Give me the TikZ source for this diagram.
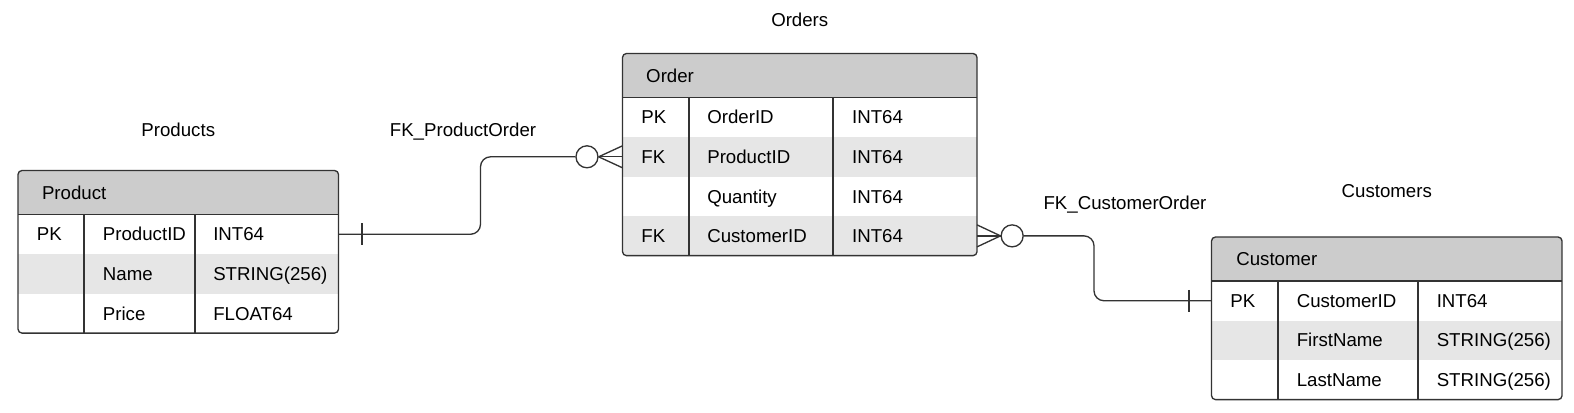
\documentclass[tikz,border=0pt]{standalone}
\usepackage{fontspec}
\setmainfont{Liberation Sans}
\usetikzlibrary{positioning}
\usetikzlibrary{backgrounds}

\definecolor{headgray}{HTML}{CCCCCC}
\definecolor{stripegray}{HTML}{E6E6E6}
\definecolor{linegray}{HTML}{333333}

\tikzset{
  tabhead/.style={minimum height=32.6pt, inner sep=0pt, anchor=north west},
  tabrow/.style={minimum height=29.25pt, inner sep=0pt},
  cell/.style={inner sep=0pt, text height=10pt, text depth=0pt},
  tabframe/.style={draw=linegray, line width=1pt, rounded corners=3pt},
  tabline/.style={draw=linegray, line width=1pt},
  relation/.style={draw=linegray, line width=1pt, rounded corners=7.5pt},
  zero/.style={draw=linegray, line width=1pt, circle, minimum size=16.5pt, inner sep=0pt, fill=white}
}

\begin{document}
\begin{tikzpicture}[x=0.75pt, y=-0.75pt, font=\fontsize{14}{17}\selectfont]
    \useasboundingbox (0,0) rectangle (1574,412);

    % Products
    \node[tabhead, minimum width=240pt] (prod_head) at (18,170.5) {};
    \node[tabrow, minimum width=240pt, below=0pt of prod_head] (prod_r1) {};
    \node[tabrow, minimum width=240pt, below=0pt of prod_r1] (prod_r2) {};
    \node[tabrow, minimum width=240pt, below=0pt of prod_r2] (prod_r3) {};

    \begin{scope}[on background layer]
        \begin{scope}
            \clip[rounded corners=3pt] (prod_head.north west) rectangle (prod_r3.south east);
            \fill[headgray] (prod_head.north west) rectangle (prod_head.south east);
            \fill[stripegray] (prod_r2.north west) rectangle (prod_r2.south east);
        \end{scope}
    \end{scope}

    \draw[tabframe] (prod_head.north west) rectangle (prod_r3.south east);
    \draw[tabline] (prod_head.south west) -- (prod_head.south east);
    \draw[tabline] ([xshift=49.5pt] prod_r1.north west) -- ([xshift=49.5pt] prod_r3.south west);
    \draw[tabline] ([xshift=132.75pt] prod_r1.north west) -- ([xshift=132.75pt] prod_r3.south west);

    \node[cell, above=25.4pt of prod_head] (prod_title) {Products};
    \node[cell, right=17.8pt of prod_head.west] (prod_name) {Product};
    \node[cell, right=14pt of prod_r1.west] (prod_pk) {PK};
    \node[cell, right=63.5pt of prod_r1.west] (prod_id) {ProductID};
    \node[cell, right=146.25pt of prod_r1.west] (prod_id_type) {INT64};
    \node[cell, right=63.5pt of prod_r2.west] (prod_nm) {Name};
    \node[cell, right=146.25pt of prod_r2.west] (prod_nm_type) {STRING(256)};
    \node[cell, right=63.5pt of prod_r3.west] (prod_pr) {Price};
    \node[cell, right=146.25pt of prod_r3.west] (prod_pr_type) {FLOAT64};

    % Orders
    \node[tabhead, minimum width=265.5pt] (ord_head) at (622.5,53.5) {};
    \node[tabrow, minimum width=265.5pt, below=0pt of ord_head] (ord_r1) {};
    \node[tabrow, minimum width=265.5pt, below=0pt of ord_r1] (ord_r2) {};
    \node[tabrow, minimum width=265.5pt, below=0pt of ord_r2] (ord_r3) {};
    \node[tabrow, minimum width=265.5pt, below=0pt of ord_r3] (ord_r4) {};

    \begin{scope}[on background layer]
        \begin{scope}
            \clip[rounded corners=3pt] (ord_head.north west) rectangle (ord_r4.south east);
            \fill[headgray] (ord_head.north west) rectangle (ord_head.south east);
            \fill[stripegray] (ord_r2.north west) rectangle (ord_r2.south east);
            \fill[stripegray] (ord_r4.north west) rectangle (ord_r4.south east);
        \end{scope}
    \end{scope}

    \draw[tabframe] (ord_head.north west) rectangle (ord_r4.south east);
    \draw[tabline] (ord_head.south west) -- (ord_head.south east);
    \draw[tabline] ([xshift=49.9pt] ord_r1.north west) -- ([xshift=49.9pt] ord_r4.south west);
    \draw[tabline] ([xshift=157.9pt] ord_r1.north west) -- ([xshift=157.9pt] ord_r4.south west);

    \node[cell, above=20.1pt of ord_head] (ord_title) {Orders};
    \node[cell, right=17.6pt of ord_head.west] (ord_name) {Order};
    \node[cell, right=14pt of ord_r1.west] (ord_pk) {PK};
    \node[cell, right=63.4pt of ord_r1.west] (ord_id) {OrderID};
    \node[cell, right=172pt of ord_r1.west] (ord_id_type) {INT64};
    \node[cell, right=14pt of ord_r2.west] (ord_fk1) {FK};
    \node[cell, right=63.4pt of ord_r2.west] (ord_prod) {ProductID};
    \node[cell, right=172pt of ord_r2.west] (ord_prod_type) {INT64};
    \node[cell, right=63.4pt of ord_r3.west] (ord_qty) {Quantity};
    \node[cell, right=172pt of ord_r3.west] (ord_qty_type) {INT64};
    \node[cell, right=14pt of ord_r4.west] (ord_fk2) {FK};
    \node[cell, right=63.4pt of ord_r4.west] (ord_cust) {CustomerID};
    \node[cell, right=172pt of ord_r4.west] (ord_cust_type) {INT64};

    % Customers
    \node[tabhead, minimum width=262.5pt] (cust_head) at (1211.5,237) {};
    \node[tabrow, minimum width=262.5pt, below=0pt of cust_head] (cust_r1) {};
    \node[tabrow, minimum width=262.5pt, below=0pt of cust_r1] (cust_r2) {};
    \node[tabrow, minimum width=262.5pt, below=0pt of cust_r2] (cust_r3) {};

    \begin{scope}[on background layer]
        \begin{scope}
            \clip[rounded corners=3pt] (cust_head.north west) rectangle (cust_r3.south east);
            \fill[headgray] (cust_head.north west) rectangle (cust_head.south east);
            \fill[stripegray] (cust_r2.north west) rectangle (cust_r2.south east);
        \end{scope}
    \end{scope}

    \draw[tabframe] (cust_head.north west) rectangle (cust_r3.south east);
    \draw[tabline] (cust_head.south west) -- (cust_head.south east);
    \draw[tabline] ([xshift=49.9pt] cust_r1.north west) -- ([xshift=49.9pt] cust_r3.south west);
    \draw[tabline] ([xshift=154.9pt] cust_r1.north west) -- ([xshift=154.9pt] cust_r3.south west);

    \node[cell, above=29.25pt of cust_head] (cust_title) {Customers};
    \node[cell, right=18.4pt of cust_head.west] (cust_name) {Customer};
    \node[cell, right=14pt of cust_r1.west] (cust_pk) {PK};
    \node[cell, right=63.75pt of cust_r1.west] (cust_id) {CustomerID};
    \node[cell, right=168.75pt of cust_r1.west] (cust_id_type) {INT64};
    \node[cell, right=63.75pt of cust_r2.west] (cust_first) {FirstName};
    \node[cell, right=168.75pt of cust_r2.west] (cust_first_type) {STRING(256)};
    \node[cell, right=63.75pt of cust_r3.west] (cust_last) {LastName};
    \node[cell, right=168.75pt of cust_r3.west] (cust_last_type) {STRING(256)};

    % FK_ProductOrder
    \coordinate (po_bend) at (480.5,0);
    \node[zero, left=17.9pt of ord_r2.west] (po_zero) {};
    \draw[relation] (prod_r1.east) -| (po_bend |- ord_r2.west) -- (po_zero.west);
    \draw[relation] ([xshift=17.6pt, yshift=8.25pt] prod_r1.east) -- ([xshift=17.6pt, yshift=-8.25pt] prod_r1.east);
    \draw[relation] (po_zero.east) -- ([yshift=8.25pt] ord_r2.west);
    \draw[relation] (po_zero.east) -- (ord_r2.west);
    \draw[relation] (po_zero.east) -- ([yshift=-8.25pt] ord_r2.west);
    \node[cell] (po_label) at (463,130) {FK\_ProductOrder};

    % FK_CustomerOrder
    \coordinate (co_bend) at (1094,0);
    \node[zero, right=17.6pt of ord_r4.east] (co_zero) {};
    \draw[relation] (co_zero.east) -| (co_bend |- cust_r1.west) -- (cust_r1.west);
    \draw[relation] ([xshift=-16.9pt, yshift=8.25pt] cust_r1.west) -- ([xshift=-16.9pt, yshift=-8.25pt] cust_r1.west);
    \draw[relation] (co_zero.west) -- ([yshift=8.25pt] ord_r4.east);
    \draw[relation] (co_zero.west) -- (ord_r4.east);
    \draw[relation] (co_zero.west) -- ([yshift=-8.25pt] ord_r4.east);
    \node[cell] (co_label) at (1125,202.5) {FK\_CustomerOrder};

\end{tikzpicture}
\end{document}
